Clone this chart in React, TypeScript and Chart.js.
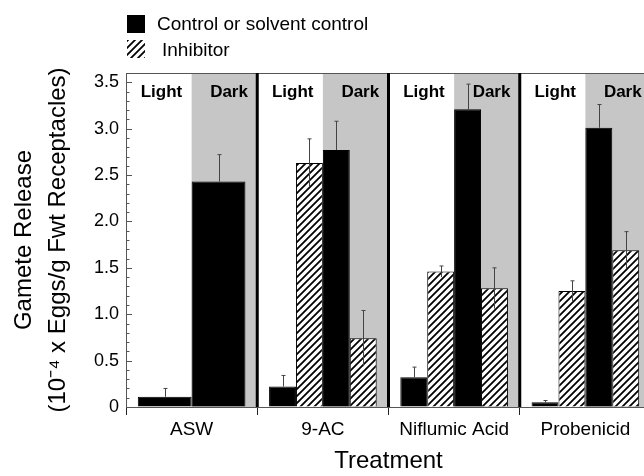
import React, { useEffect, useRef } from 'react';
import { Chart, registerables } from 'chart.js';

Chart.register(...registerables);

const categories = ['ASW', '9-AC', 'Niflumic Acid', 'Probenicid'];
const lightControl = [0.11, 0.22, 0.32, 0.05];
const lightControlErr = [0.09, 0.12, 0.11, 0.02];
const lightInhibitor = [null, 2.63, 1.46, 1.25];
const lightInhibitorErr = [null, 0.26, 0.06, 0.11];
const darkControl = [2.43, 2.77, 3.21, 3.01];
const darkControlErr = [0.29, 0.31, 0.27, 0.25];
const darkInhibitor = [null, 0.74, 1.28, 1.69];
const darkInhibitorErr = [null, 0.3, 0.22, 0.2];
const yTickLabels = ['0', '0.5', '1.0', '1.5', '2.0', '2.5', '3.0', '3.5'];
const halfLabels = ['Light', 'Dark'];
const legendLabels = ['Control or solvent control', 'Inhibitor'];
const yTitle = ['Gamete Release', '(10\u207B\u2074 x Eggs/g Fwt Receptacles)'];
const xTitle = 'Treatment';

const FONT = '"Liberation Sans", Arial, Helvetica, sans-serif';

function makeHatch(): CanvasPattern | string {
  const s = 7;
  const c = document.createElement('canvas');
  c.width = s;
  c.height = s;
  const g = c.getContext('2d');
  if (!g) return '#888';
  g.fillStyle = '#fff';
  g.fillRect(0, 0, s, s);
  g.strokeStyle = '#000';
  g.lineWidth = 1.8;
  g.beginPath();
  g.moveTo(-1, s + 1);
  g.lineTo(s + 1, -1);
  g.moveTo(-2, 2);
  g.lineTo(2, -2);
  g.moveTo(s - 2, s + 2);
  g.lineTo(s + 2, s - 2);
  g.stroke();
  const p = g.createPattern(c, 'repeat');
  return p || '#888';
}

export default function App() {
  const ref = useRef<HTMLCanvasElement | null>(null);

  useEffect(() => {
    const canvas = ref.current;
    if (!canvas) return;
    const hatch = makeHatch();
    const errs = [lightControlErr, lightInhibitorErr, darkControlErr, darkInhibitorErr];
    const isControl = [true, false, true, false];

    const decor = {
      id: 'decor',
      beforeDatasetsDraw(chart: any) {
        const { ctx, chartArea } = chart;
        const x = chart.scales.x;
        ctx.save();
        // gray "dark" halves
        ctx.fillStyle = '#c6c6c6';
        categories.forEach((_, i) => {
          const a = x.getPixelForValue(i);
          const b = x.getPixelForValue(i + 0.5);
          ctx.fillRect(a, chartArea.top, b - a, chartArea.bottom - chartArea.top);
        });
        // top frame line
        ctx.strokeStyle = '#555';
        ctx.lineWidth = 1;
        ctx.beginPath();
        ctx.moveTo(chartArea.left, chartArea.top + 0.5);
        ctx.lineTo(chartArea.right, chartArea.top + 0.5);
        ctx.stroke();
        // panel dividers
        ctx.strokeStyle = '#000';
        ctx.lineWidth = 3;
        for (let i = 0; i < categories.length - 1; i++) {
          const px = x.getPixelForValue(i + 0.5);
          ctx.beginPath();
          ctx.moveTo(px, chartArea.top);
          ctx.lineTo(px, chartArea.bottom);
          ctx.stroke();
        }
        ctx.restore();
      },
      afterDatasetsDraw(chart: any) {
        const { ctx, chartArea } = chart;
        const x = chart.scales.x;
        const y = chart.scales.y;
        ctx.save();
        // error bars
        ctx.strokeStyle = '#444';
        ctx.lineWidth = 1;
        chart.data.datasets.forEach((ds: any, di: number) => {
          const meta = chart.getDatasetMeta(di);
          meta.data.forEach((el: any, j: number) => {
            const v = ds.data[j];
            const e = errs[di][j];
            if (v == null || e == null) return;
            const px = Math.round(el.x) + 0.5;
            const yT = y.getPixelForValue(v + e);
            const yB = isControl[di] ? y.getPixelForValue(v) : y.getPixelForValue(Math.max(0, v - e));
            ctx.beginPath();
            ctx.moveTo(px, yB);
            ctx.lineTo(px, yT);
            ctx.moveTo(px - 2, yT);
            ctx.lineTo(px + 2, yT);
            ctx.stroke();
          });
        });
        // inward y ticks (major and minor)
        ctx.strokeStyle = '#555';
        ctx.lineWidth = 1;
        for (let i = 1; i <= 35; i++) {
          const py = Math.round(y.getPixelForValue(i / 10)) + 0.5;
          const len = i % 5 === 0 ? 6 : 3.5;
          ctx.beginPath();
          ctx.moveTo(chartArea.left, py);
          ctx.lineTo(chartArea.left + len, py);
          ctx.stroke();
        }
        // Light / Dark labels
        ctx.fillStyle = '#000';
        ctx.font = `bold 17px ${FONT}`;
        ctx.textAlign = 'center';
        ctx.textBaseline = 'middle';
        categories.forEach((_, i) => {
          const start = x.getPixelForValue(i - 0.5);
          const end = x.getPixelForValue(i + 0.5);
          const w = end - start;
          ctx.fillText(halfLabels[0], start + 0.27 * w, 92);
          ctx.fillText(halfLabels[1], start + 0.785 * w, 92);
        });
        // legend
        ctx.fillStyle = '#000';
        ctx.fillRect(127, 15, 18, 18);
        ctx.fillStyle = hatch as any;
        ctx.fillRect(127, 40, 18, 18);
        ctx.fillStyle = '#000';
        ctx.font = `19px ${FONT}`;
        ctx.textAlign = 'left';
        ctx.textBaseline = 'middle';
        ctx.fillText(legendLabels[0], 157, 25);
        ctx.fillText(legendLabels[1], 162, 51);
        ctx.restore();
      },
    };

    const mk = (label: string, data: any[], fill: any) => ({
      label,
      data,
      backgroundColor: fill,
      borderColor: '#000',
      borderWidth: 1,
      skipNull: true,
      categoryPercentage: 0.82,
      barPercentage: 1.0,
    });

    const chart = new Chart(canvas, {
      type: 'bar',
      data: {
        labels: categories,
        datasets: [
          mk(legendLabels[0], lightControl, '#000'),
          mk(legendLabels[1], lightInhibitor, hatch),
          mk(legendLabels[0], darkControl, '#000'),
          mk(legendLabels[1], darkInhibitor, hatch),
        ] as any,
      },
      options: {
        responsive: false,
        animation: false,
        devicePixelRatio: 1,
        layout: { padding: { top: 73, right: 1, bottom: 0, left: 0 } },
        plugins: {
          legend: { display: false },
          tooltip: { enabled: false },
        },
        scales: {
          x: {
            type: 'category',
            offset: true,
            grid: {
              display: true,
              offset: true,
              drawOnChartArea: false,
              drawTicks: true,
              tickLength: 8,
              color: '#222',
              lineWidth: 1,
            },
            border: { display: true, color: '#555', width: 1 },
            ticks: {
              font: { family: FONT, size: 19 },
              color: '#000',
              padding: 3,
              maxRotation: 0,
              autoSkip: false,
            },
            title: {
              display: true,
              text: xTitle,
              font: { family: FONT, size: 24 },
              color: '#000',
              padding: { top: 0, bottom: 0 },
            },
            afterFit: (s: any) => {
              s.height = 69;
            },
          },
          y: {
            min: 0,
            max: 3.6,
            grid: { display: true, drawOnChartArea: false, drawTicks: false },
            border: { display: true, color: '#555', width: 1 },
            ticks: {
              stepSize: 0.5,
              includeBounds: false,
              font: { family: FONT, size: 18 },
              color: '#000',
              padding: 7,
              callback: (v: any) => yTickLabels[Math.round(Number(v) / 0.5)],
            },
            title: {
              display: true,
              text: yTitle,
              font: { family: FONT, size: 24, lineHeight: 1.42 },
              color: '#000',
              padding: { top: 7, bottom: 0 },
            },
            afterFit: (s: any) => {
              s.width = 126;
            },
          },
        },
      } as any,
      plugins: [decor],
    });

    return () => chart.destroy();
  }, []);

  return (
    <div style={{ position: 'fixed', left: 0, top: 0, width: 644, height: 476, overflow: 'hidden', background: '#fff' }}>
      <canvas ref={ref} width={652} height={476} style={{ display: 'block', width: 652, height: 476 }} />
    </div>
  );
}
